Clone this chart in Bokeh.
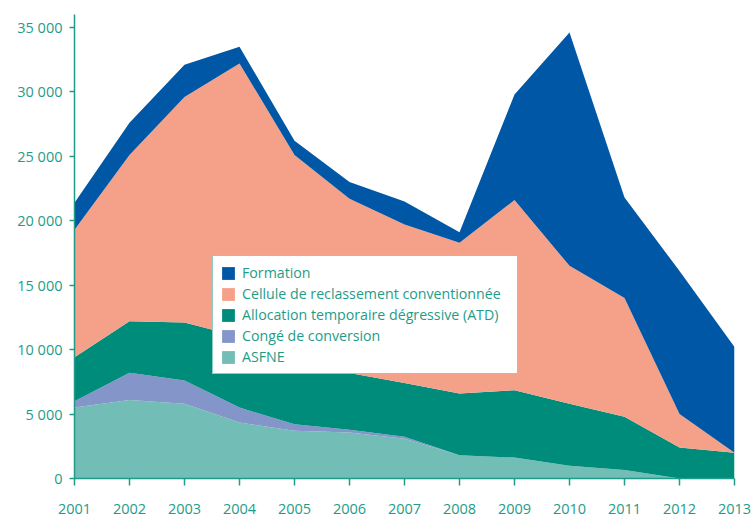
from bokeh.plotting import figure
from bokeh.models import Legend, LegendItem, FixedTicker, Range1d
from bokeh.embed import file_html
from bokeh.resources import INLINE

years = [2001, 2002, 2003, 2004, 2005, 2006, 2007, 2008, 2009, 2010, 2011, 2012, 2013]
asfne = [5500, 6100, 5800, 4350, 3700, 3560, 3080, 1800, 1620, 980, 650, 0, 0]
conge = [500, 2100, 1800, 1150, 500, 230, 150, 0, 0, 0, 0, 0, 0]
atd = [3400, 4000, 4500, 5500, 5100, 4400, 4170, 4800, 5230, 4820, 4150, 2400, 2000]
cellule = [9900, 12900, 17500, 21200, 15800, 13510, 12300, 11700, 14750, 10700, 9200, 2600, 0]
formation = [2100, 2500, 2500, 1300, 1100, 1300, 1800, 800, 8200, 18100, 7800, 11100, 8200]

series_names = ["ASFNE", "Congé de conversion", "Allocation temporaire dégressive (ATD)",
                "Cellule de reclassement conventionnée", "Formation"]
colors = ["#72bdb5", "#8495c9", "#008c7b", "#f5a089", "#0057a5"]
legend_order = ["Formation", "Cellule de reclassement conventionnée",
                "Allocation temporaire dégressive (ATD)", "Congé de conversion", "ASFNE"]

y_ticks = [0, 5000, 10000, 15000, 20000, 25000, 30000, 35000]

TEXT = "#1e9c89"
FONT = "Open Sans"

p = figure(width=754, height=522, output_backend="svg", toolbar_location=None,
           x_range=Range1d(2001, 2013), y_range=Range1d(0, 36000),
           min_border_left=74, min_border_right=20, min_border_top=14, min_border_bottom=44)
p.outline_line_color = None
p.grid.grid_line_color = None
p.background_fill_color = "white"

data = {"x": years}
keys = ["asfne", "conge", "atd", "cellule", "formation"]
for k, arr in zip(keys, [asfne, conge, atd, cellule, formation]):
    data[k] = arr

renderers = p.varea_stack(stackers=keys, x="x", color=colors, source=data)
rmap = dict(zip(series_names, renderers))

# axes
p.xaxis.ticker = FixedTicker(ticks=years)
p.yaxis.ticker = FixedTicker(ticks=y_ticks)
p.yaxis.major_label_overrides = {v: f"{v:,}".replace(",", " ") for v in y_ticks}
for ax in (p.xaxis[0], p.yaxis[0]):
    ax.axis_line_color = TEXT
    ax.axis_line_width = 1.5
    ax.major_tick_line_color = TEXT
    ax.major_tick_line_width = 1.5
    ax.minor_tick_line_color = None
    ax.major_tick_in = 0
    ax.major_label_text_color = TEXT
    ax.major_label_text_font = FONT
p.xaxis.major_tick_out = 7
p.xaxis.major_label_standoff = 18
p.xaxis.major_label_text_font_size = "14.5px"
p.yaxis.major_tick_out = 5
p.yaxis.major_label_standoff = 7
p.yaxis.major_label_text_font_size = "14.5px"

legend = Legend(items=[LegendItem(label=n, renderers=[rmap[n]]) for n in legend_order],
                location=(138, 104))
legend.border_line_color = TEXT
legend.border_line_width = 1.5
legend.background_fill_color = "white"
legend.background_fill_alpha = 1
legend.label_text_color = TEXT
legend.label_text_font = FONT
legend.label_text_font_size = "14.2px"
legend.glyph_width = 16
legend.glyph_height = 16
legend.label_height = 16
legend.label_width = 268
legend.label_standoff = 6
legend.spacing = 2
legend.padding = 7
legend.margin = 0
p.add_layout(legend, "center")

open("out.html", "w").write(file_html(p, INLINE))
